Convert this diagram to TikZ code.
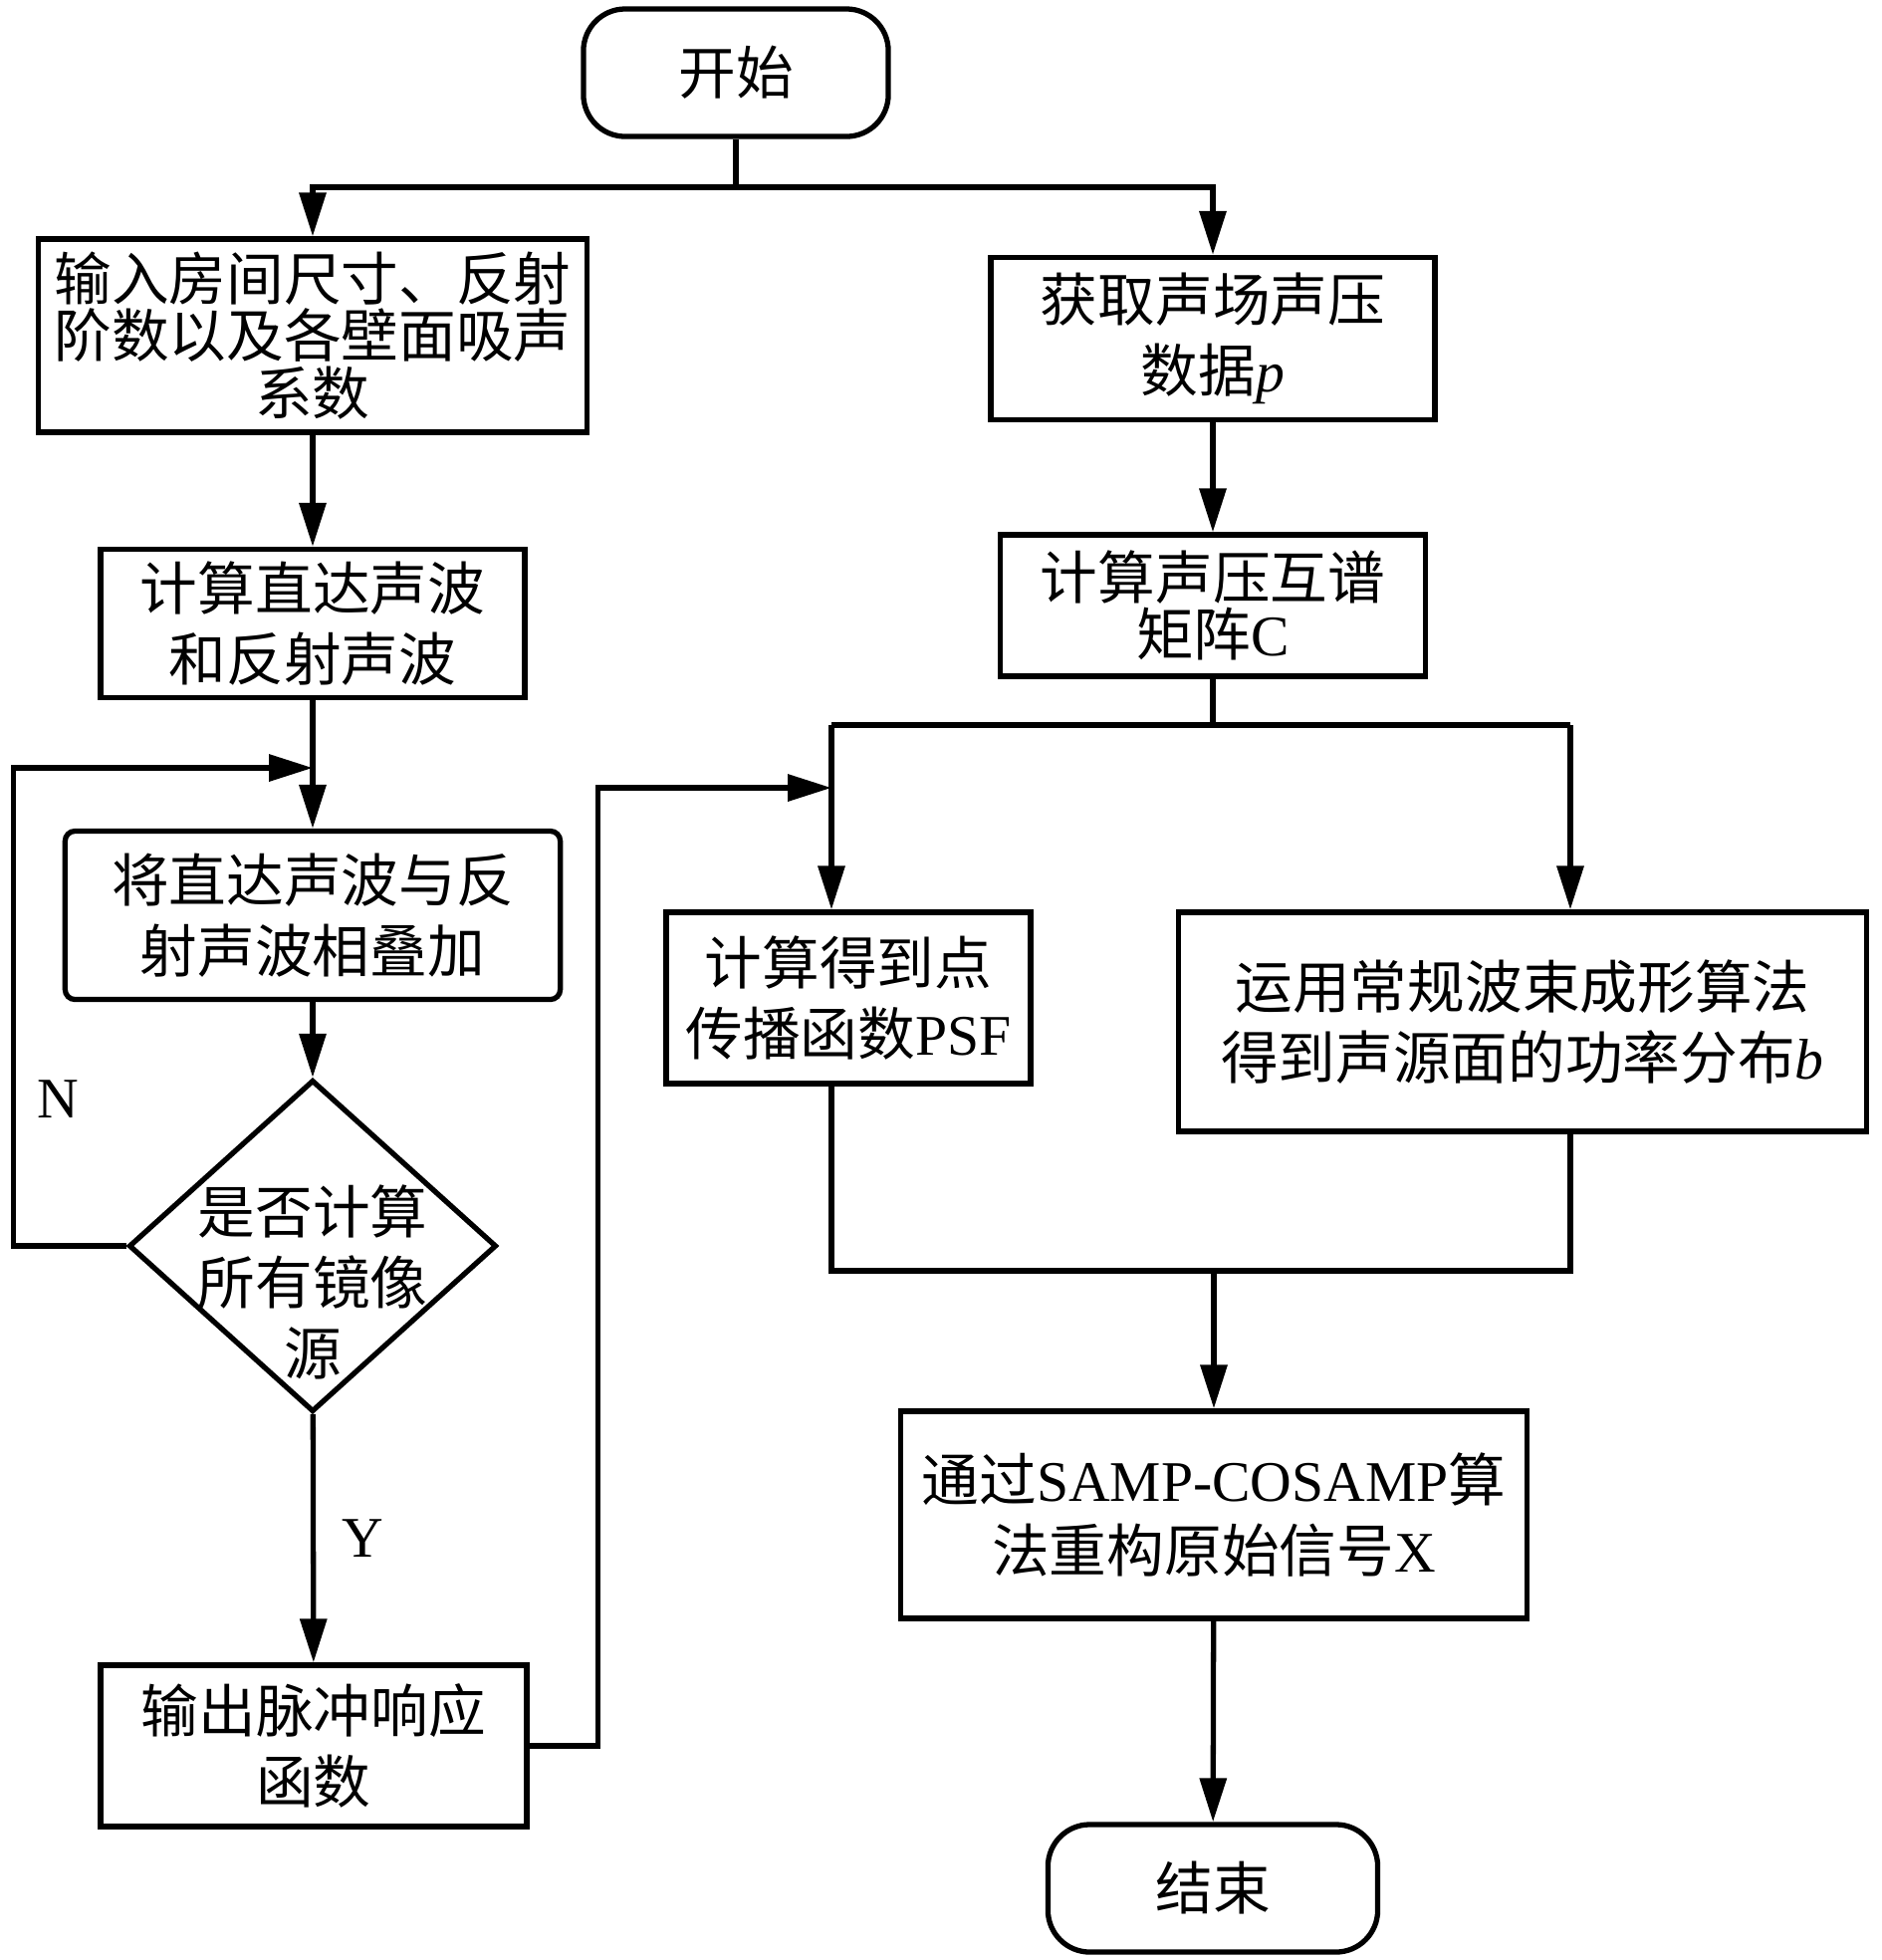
\documentclass[tikz,border=0pt]{standalone}
\usepackage{fontspec}
\setmainfont{Liberation Serif}
\newfontfamily\cjk{Noto Sans CJK SC}
\usetikzlibrary{arrows.meta,shapes.geometric}
\newcommand{\entxt}[1]{{\rmfamily #1}}

\begin{document}
\begin{tikzpicture}[x=0.01cm, y=-0.01cm, line width=1.5pt,
  >={Triangle[length=12.5pt,width=7.5pt]},
  box/.style={draw, rectangle, inner sep=0pt, align=center, font=\cjk\fontsize{16.4pt}{20.2pt}\selectfont},
  tightbox/.style={box, font=\cjk\fontsize{16.4pt}{16.4pt}\selectfont},
  term/.style={box, rounded corners=0.42cm},
  decision/.style={draw, diamond, inner sep=0pt},
  lbl/.style={font=\fontsize{16.4pt}{20pt}\selectfont}]
\useasboundingbox (0,0) rectangle (1890,1968);

% left column
\node (start) [term, minimum width=3.06cm, minimum height=1.28cm] at (739,73) {开始};
\node (box1) [tightbox, minimum width=5.51cm, minimum height=1.94cm] at (314,337) {输入房间尺寸、反射\\阶数以及各壁面吸声\\系数};
\node (box2) [box, minimum width=4.26cm, minimum height=1.49cm] at (314,626) {计算直达声波\\和反射声波};
\node (box3) [box, rounded corners=0.1cm, minimum width=4.97cm, minimum height=1.69cm] at (314,919) {将直达声波与反\\射声波相叠加};
\node (dec) [decision, minimum width=3.69cm, minimum height=3.33cm] at (314,1251) {};
\node (dectext) [box, draw=none] at (314,1287) {是否计算\\所有镜像\\源};
\node (out) [box, minimum width=4.28cm, minimum height=1.62cm] at (315,1753) {输出脉冲响应\\函数};
\node (nlab) [lbl] at (58,1104) {N};

% right column
\node (boxP) [box, minimum width=4.46cm, minimum height=1.63cm] at (1218,340) {获取声场声压\\数据\entxt{\textit{p}}};
\node (boxC) [tightbox, minimum width=4.27cm, minimum height=1.42cm] at (1218,608) {计算声压互谱\\矩阵\entxt{C}};
\node (psf) [box, minimum width=3.66cm, minimum height=1.72cm] at (852,1002) {计算得到点\\传播函数\entxt{PSF}};
\node (cbf) [box, minimum width=6.90cm, minimum height=2.20cm] at (1529,1026) {运用常规波束成形算法\\得到声源面的功率分布\entxt{\textit{b}}};
\node (samp) [box, minimum width=6.29cm, minimum height=2.08cm] at (1219,1521) {通过\entxt{SAMP-COSAMP}算\\法重构原始信号\entxt{X}};
\node (end) [term, minimum width=3.31cm, minimum height=1.28cm] at (1218,1896) {结束};

\coordinate (top) at (739,188);
\coordinate (jl) at (314,771);
\coordinate (jr) at (835,791);
\coordinate (splitL) at (835,728);
\coordinate (splitR) at (1577,728);
\coordinate (mergeL) at (835,1276);
\coordinate (mergeR) at (1577,1276);

\draw (start) -- (top);
\draw[->] (top) -| (box1);
\draw[->] (top) -| (boxP);
\draw[->] (box1) -- (box2);
\draw[->] (box2) -- (box3);
\draw[->] (box3) -- (dec);
\draw[->] (dec.west) -- ++(-113,0) |- (jl);
\draw[->] (dec) -- node[lbl, right=0.15cm] (ylab) {Y} (out);
\draw[->] (out.east) -- ++(69,0) |- (jr);

\draw[->] (boxP) -- (boxC);
\draw (boxC) -- (boxC |- splitL);
\draw (splitL) -- (splitR);
\draw[->] (splitL) -- (splitL |- psf.north);
\draw[->] (splitR) -- (splitR |- cbf.north);
\draw (splitL |- psf.south) -- (mergeL) -- (mergeR) -- (splitR |- cbf.south);
\draw[->] (samp |- mergeL) -- (samp);
\draw[->] (samp) -- (end);
\end{tikzpicture}
\end{document}
